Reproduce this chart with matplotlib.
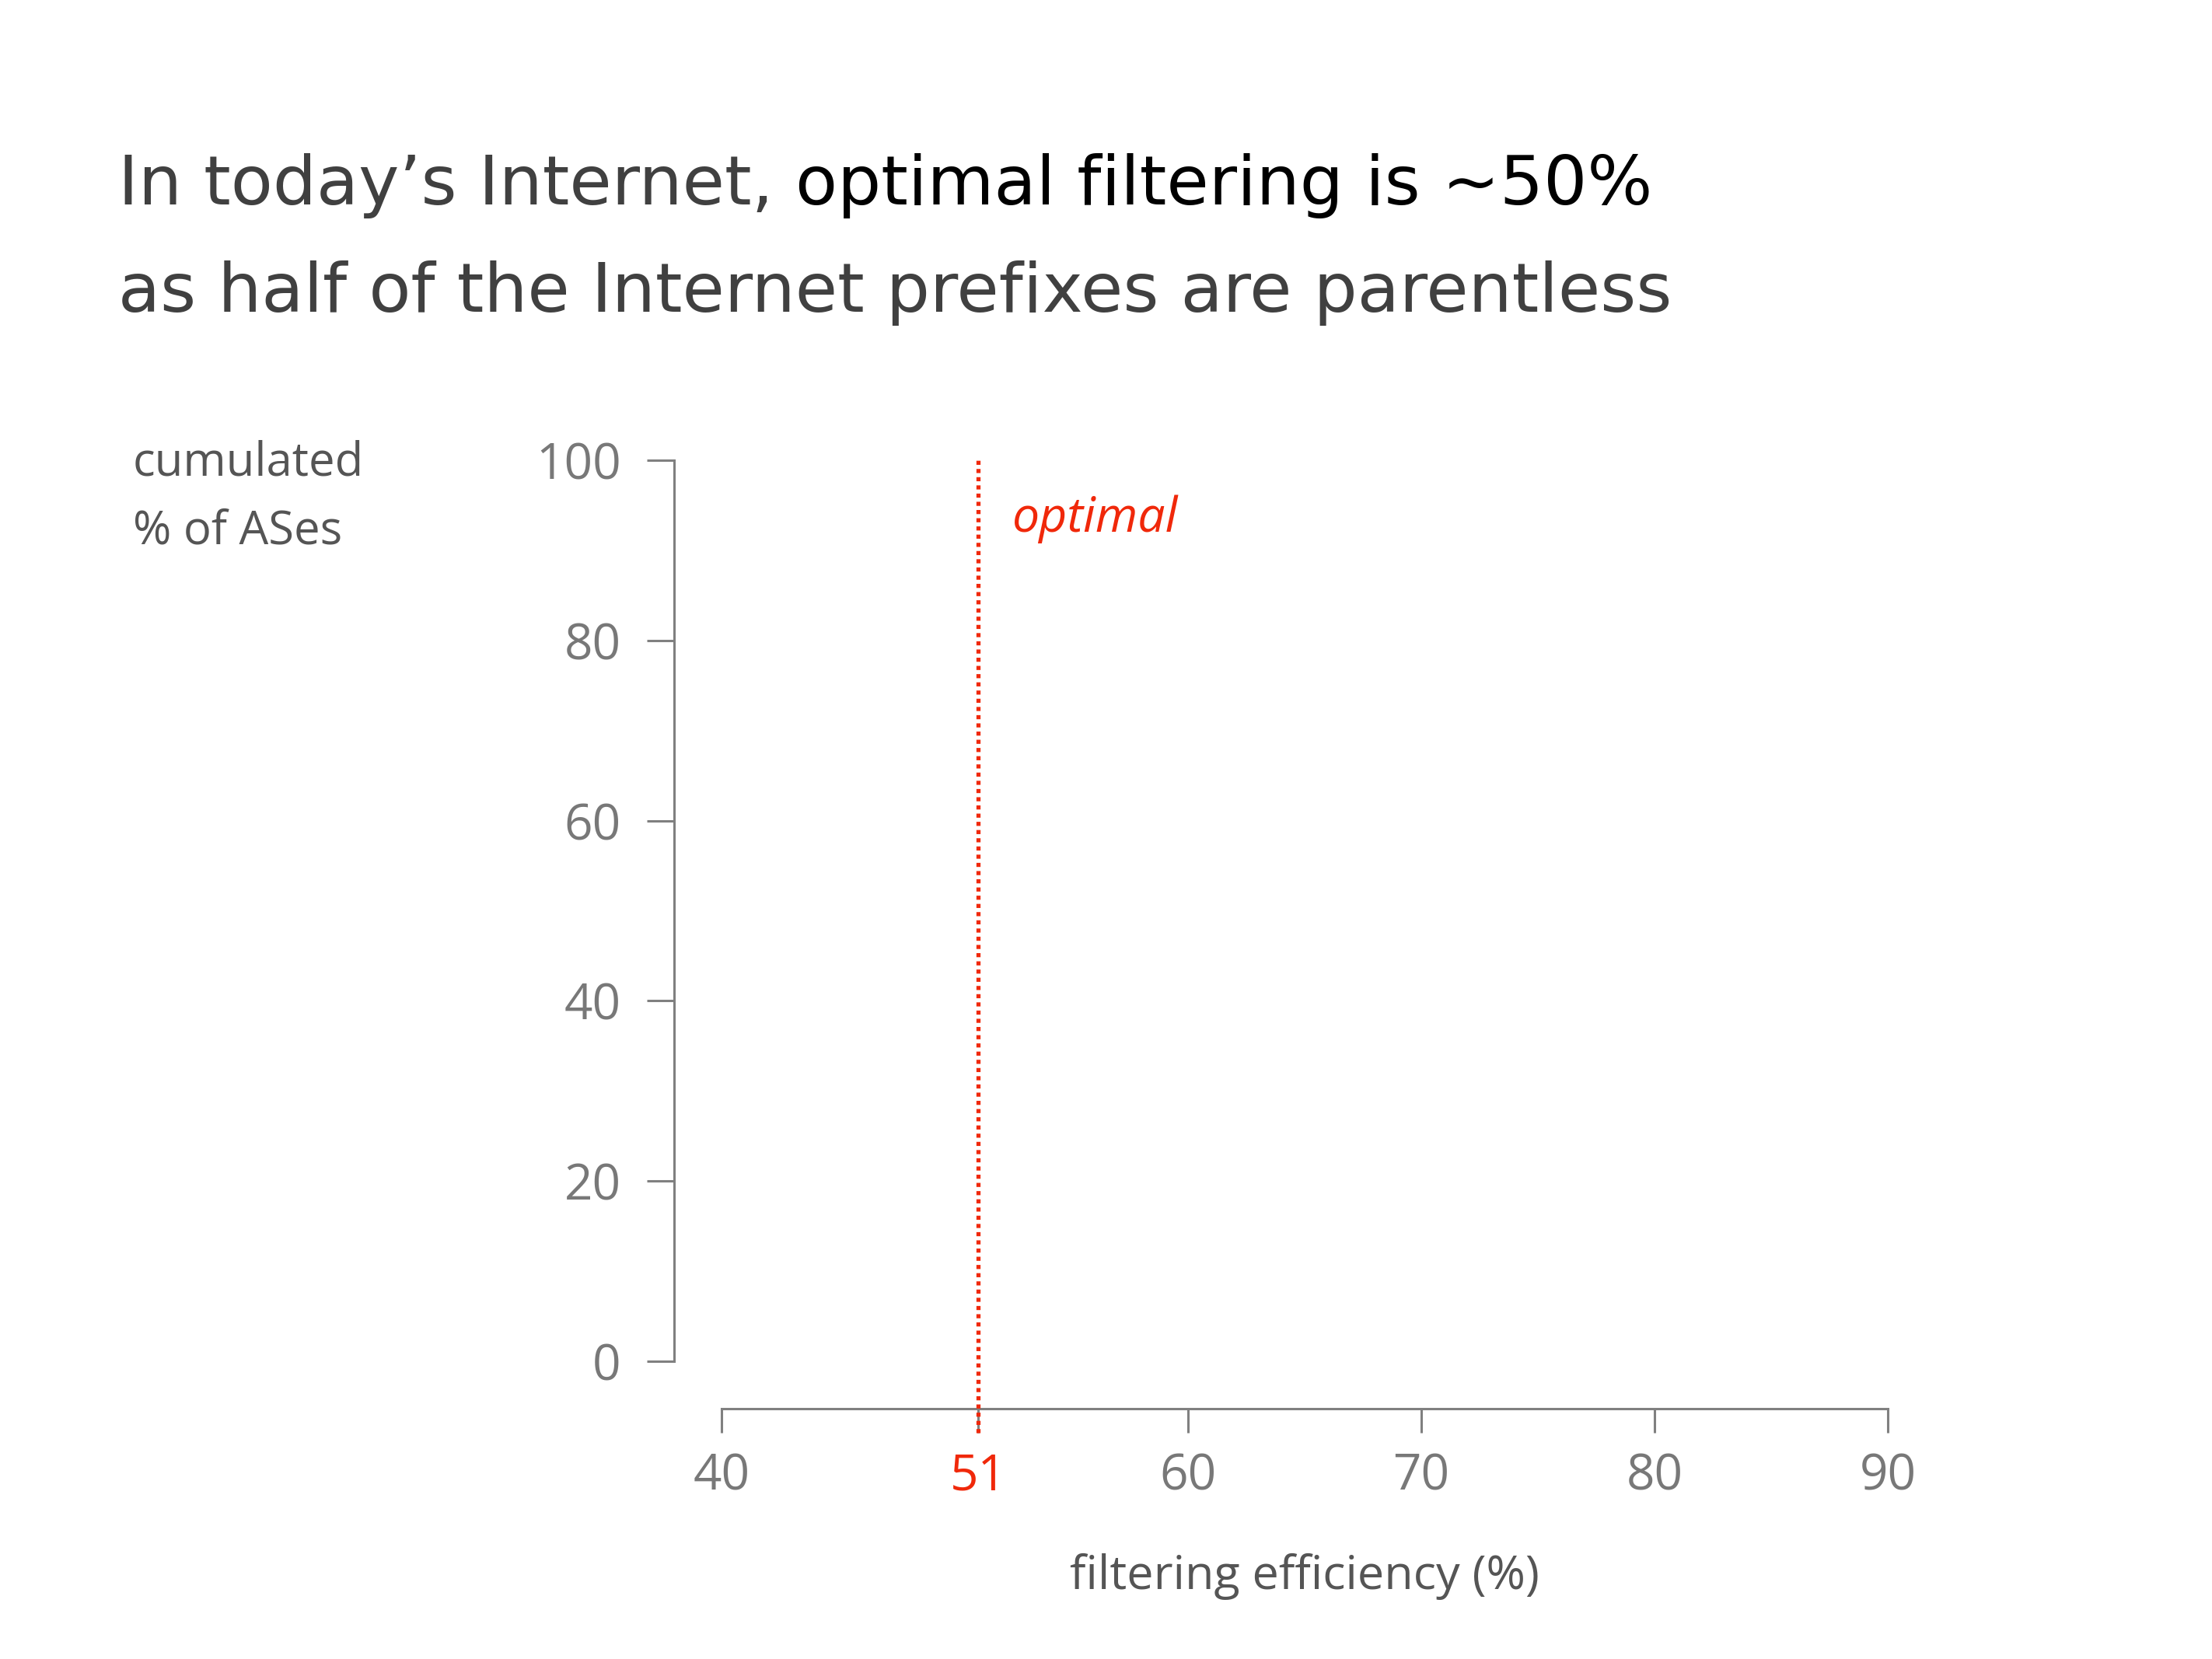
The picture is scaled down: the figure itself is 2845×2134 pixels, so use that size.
"""
Filtering efficiency slide: empty CDF frame with the optimal threshold marked.
"""
import matplotlib.pyplot as plt
import matplotlib as mpl

mpl.rcParams.update({
    "font.family": ["Open Sans", "DejaVu Sans"],
    "axes.spines.top": False,
    "axes.spines.right": False,
})

X_TICKS = [40, 51, 60, 70, 80, 90]
Y_TICKS = [0, 20, 40, 60, 80, 100]
X_LIM = (40, 90)
Y_LIM = (0, 100)
OPTIMAL = 51

TITLE_GREY = "In today\u2019s Internet, "
TITLE_BLACK = "optimal filtering is ~50%"
TITLE_LINE2 = "as half of the Internet prefixes are parentless"
YLABEL = "cumulated\n% of ASes"
XLABEL = "filtering efficiency (%)"

AXIS_GREY = "#808080"
TICK_GREY = "#787878"
LABEL_GREY = "#555555"
RED = "#f0280a"

DPI = 200
TITLE_SIZE = 31.8


def main():
    fig = plt.figure(figsize=(2845 / DPI, 2134 / DPI), dpi=DPI)
    ax = fig.add_axes([928 / 2845, 1 - 1751 / 2134,
                       1500 / 2845, 1159 / 2134])

    ax.set_xlim(*X_LIM)
    ax.set_ylim(*Y_LIM)
    ax.set_xticks(X_TICKS)
    ax.set_yticks(Y_TICKS)
    ax.set_xticklabels([str(t) for t in X_TICKS])
    ax.set_yticklabels([str(t) for t in Y_TICKS])

    for side in ("left", "bottom"):
        ax.spines[side].set_color(AXIS_GREY)
        ax.spines[side].set_linewidth(1.1)
        ax.spines[side].set_position(("outward", 22))
    ax.spines["left"].set_bounds(*Y_LIM)
    ax.spines["bottom"].set_bounds(*X_LIM)

    ax.tick_params(axis="y", length=12.6, width=1.1, color=AXIS_GREY,
                   labelcolor=TICK_GREY, labelsize=23, pad=12)
    ax.tick_params(axis="x", length=11, width=1.1, color=AXIS_GREY,
                   labelcolor=TICK_GREY, labelsize=23, pad=9)
    for lab, t in zip(ax.get_xticklabels(), X_TICKS):
        if t == OPTIMAL:
            lab.set_color(RED)

    # optimal threshold, runs down through the offset x axis
    ax.vlines(OPTIMAL, -7.9, Y_LIM[1], colors=RED, linewidth=1.9,
              linestyles=(0, (1, 1)), clip_on=False, zorder=3)
    ax.annotate("optimal", xy=(OPTIMAL, Y_LIM[1]), xytext=(16, -16),
                textcoords="offset points", ha="left", va="top",
                color=RED, fontsize=22.5, fontstyle="italic")

    ax.set_xlabel(XLABEL, fontsize=22, color=LABEL_GREY, labelpad=24)
    fig.text(171 / 2845, 1 - 699 / 2134, YLABEL, fontsize=21.5,
             color=LABEL_GREY, ha="left", va="baseline", linespacing=1.6)

    # two-colour title line
    t1 = fig.text(152 / 2845, 1 - 263 / 2134, TITLE_GREY, fontsize=TITLE_SIZE,
                  color="#404040", family="DejaVu Sans", va="baseline")
    fig.canvas.draw()
    bb = t1.get_window_extent()
    fig.text(bb.x1 / fig.bbox.width, 1 - 263 / 2134, TITLE_BLACK,
             fontsize=TITLE_SIZE, color="black", family="DejaVu Sans",
             va="baseline")
    fig.text(152 / 2845, 1 - 401 / 2134, TITLE_LINE2, fontsize=TITLE_SIZE,
             color="#404040", family="DejaVu Sans", va="baseline")

    fig.savefig("out.png", dpi=DPI, facecolor="white")


if __name__ == "__main__":
    main()
